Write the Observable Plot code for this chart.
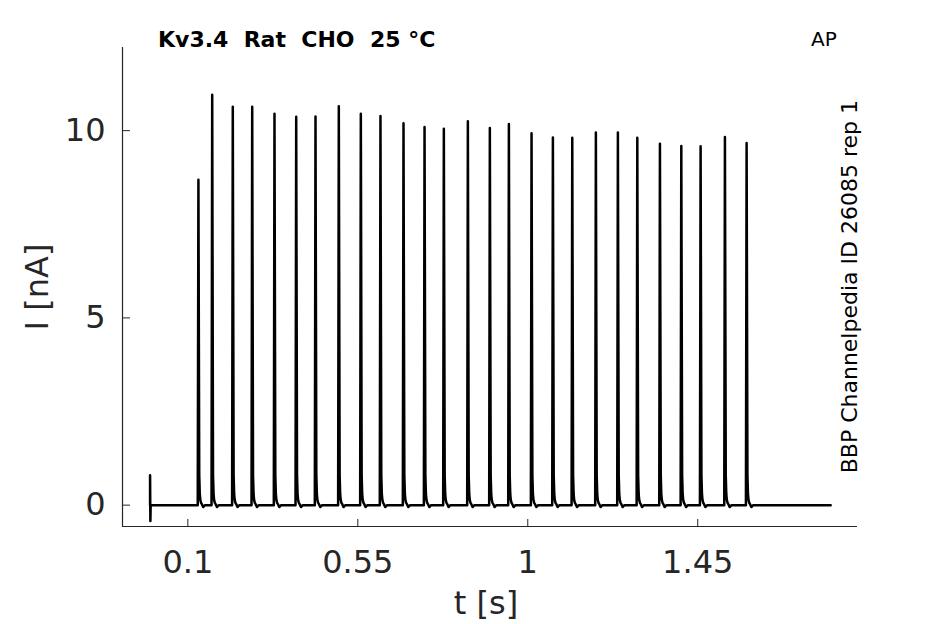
<!DOCTYPE html>
<html>
<head>
<meta charset="utf-8">
<script src="https://cdn.jsdelivr.net/npm/d3@7"></script>
<script src="https://cdn.jsdelivr.net/npm/@observablehq/plot@0.6"></script>
<style>
  html, body { margin: 0; padding: 0; background: #fff; }
  #chart svg { display: block; font-family: "DejaVu Sans", sans-serif; }
</style>
</head>
<body>
<div id="chart"></div>
<script>
// ---- data ----
const spikeTimes = [0.128, 0.1645, 0.219, 0.2704, 0.3294, 0.3869, 0.438, 0.4997, 0.558, 0.610,
  0.671, 0.7267, 0.7778, 0.8414, 0.8996, 0.950, 1.010, 1.0665, 1.1178, 1.1803,
  1.2386, 1.290, 1.3499, 1.4065, 1.4576, 1.522, 1.5794];
const spikePeaks = [8.69, 10.96, 10.64, 10.64, 10.45, 10.37, 10.38, 10.65, 10.45, 10.39,
  10.20, 10.10, 10.05, 10.25, 10.07, 10.18, 9.93, 9.82, 9.81, 9.95,
  9.95, 9.81, 9.65, 9.59, 9.58, 9.83, 9.67];
// spike waveform: time offsets (s) from peak and current values after the peak (nA)
const riseDt = -0.0018;
const tailDt = [0.0022, 0.0036, 0.0050, 0.0070, 0.0095, 0.0125, 0.0175];
const tailI  = [0.80,   0.30,   0.14,   0.06,   0.02,  -0.05,   0.00];
// stimulus artifact at t = 0
const artifactT = [0, 0, 0.0008, 0.0016];
const artifactI = [0, 0.80, -0.42, 0];
const traceEnd = 1.802;
const xTicks = [0.1, 0.55, 1, 1.45];
const yTicks = [0, 5, 10];
const xDomain = [-0.073, 1.873];
const yDomain = [-0.57, 12.22];

// ---- build trace table ----
const trace = [];
artifactT.forEach((t, k) => trace.push({t, i: artifactI[k]}));
spikeTimes.forEach((tp, k) => {
  trace.push({t: tp + riseDt, i: 0});
  trace.push({t: tp, i: spikePeaks[k]});
  tailDt.forEach((d, j) => trace.push({t: tp + d, i: tailI[j]}));
});
trace.push({t: traceEnd, i: 0});

const axisColor = "#262626";
const plot = Plot.plot({
  width: 945,
  height: 624,
  marginLeft: 122,
  marginRight: 88,
  marginTop: 47,
  marginBottom: 98,
  style: {fontFamily: "DejaVu Sans, sans-serif", background: "white"},
  x: {domain: xDomain},
  y: {domain: yDomain},
  marks: [
    Plot.ruleX([xDomain[0]], {stroke: axisColor, strokeWidth: 1.2}),
    Plot.ruleY([yDomain[0]], {stroke: axisColor, strokeWidth: 1.2}),
    Plot.axisX({ticks: xTicks, tickFormat: d => String(d), tickSize: -7, tickPadding: 31,
      fontSize: 32, color: axisColor, stroke: axisColor, label: null}),
    Plot.axisY({ticks: yTicks, tickFormat: d => String(d), tickSize: -8, tickPadding: 25,
      fontSize: 32, color: axisColor, stroke: axisColor, label: null}),
    Plot.line(trace, {x: "t", y: "i", stroke: "black", strokeWidth: 2.5, strokeLinejoin: "round"})
  ]
});
document.getElementById("chart").appendChild(plot);

// ---- texts ----
const svg = d3.select(plot);
svg.append("text").attr("x", 158).attr("y", 47).attr("text-anchor", "start")
  .attr("font-size", 22).attr("font-weight", "bold")
  .attr("fill", "black").style("white-space", "pre").text("Kv3.4  Rat  CHO  25 °C");
svg.append("text").attr("x", 811).attr("y", 46).attr("text-anchor", "start")
  .attr("font-size", 20).attr("fill", "black").text("AP");
svg.append("text").attr("transform", "translate(857,100) rotate(-90)").attr("text-anchor", "end")
  .attr("font-size", 22).attr("fill", "black").text("BBP Channelpedia ID 26085 rep 1");
svg.append("text").attr("x", 486).attr("y", 614).attr("text-anchor", "middle")
  .attr("font-size", 32).attr("fill", axisColor).text("t [s]");
svg.append("text").attr("transform", "translate(48,287) rotate(-90)").attr("text-anchor", "middle")
  .attr("font-size", 32).attr("fill", axisColor).text("I [nA]");
</script>
</body>
</html>
